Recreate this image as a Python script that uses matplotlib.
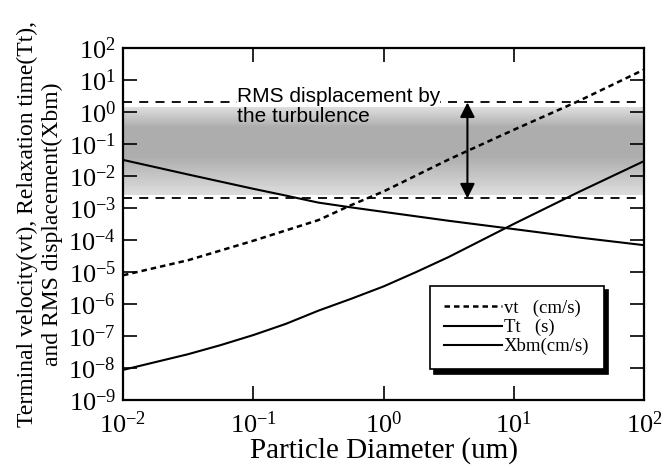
import numpy as np
from matplotlib import pyplot as plt
from matplotlib.ticker import LogLocator

plt.rcParams['font.family'] = ['Liberation Serif', 'DejaVu Serif']
plt.rcParams['mathtext.fontset'] = 'custom'
plt.rcParams['mathtext.rm'] = 'Liberation Serif'
plt.rcParams['mathtext.it'] = 'Liberation Serif:italic'

# values
diameter_um = [0.01, 0.0316, 0.1, 0.178, 0.316, 0.562, 1.0, 3.16, 10.0, 31.6, 100.0]
vt_cm_s = [7.9e-6, 2.34e-5, 9.5e-5, 2.0e-4, 4.2e-4, 1.23e-3, 3.3e-3, 3.3e-2, 0.28, 2.24, 21.4]
xbm_cm = [3.2e-2, 1.12e-2, 4.0e-3, 2.45e-3, 1.48e-3, 1.05e-3, 7.6e-4, 4.0e-4, 2.2e-4, 1.2e-4, 6.9e-5]

tt_diameter_um = [0.01, 0.0316, 0.0562, 0.1, 0.178, 0.316, 0.562, 1.0, 1.78, 3.16, 10.0, 31.6, 100.0]
tt_s = [8.7e-9, 2.7e-8, 5.2e-8, 1.07e-7, 2.4e-7, 6.2e-7, 1.45e-6, 3.55e-6, 1.0e-5,
        2.95e-5, 3.2e-4, 3.2e-3, 2.95e-2]

turb_lines = [2.0, 2.0e-3]
band_low, band_high = 2.5e-3, 1.4
band_core = [4.0e-2, 3.4e-1]
arrow_x = 4.4

fig = plt.figure(figsize=(6.71, 4.67), dpi=100)
ax = fig.add_axes([0.1833, 0.1435, 0.7767, 0.7535])
ax.set_xscale('log')
ax.set_yscale('log')
ax.set_xlim(1e-2, 1e2)
ax.set_ylim(1e-9, 1e2)
ax.yaxis.set_major_locator(LogLocator(base=10, numticks=30))

# grey turbulence band, darker in the middle
edges = np.logspace(np.log10(band_low), np.log10(band_high), 50)
lo_c, hi_c = np.log10(band_core)
for a, b in zip(edges[:-1], edges[1:]):
    m = 0.5 * (np.log10(a) + np.log10(b))
    if m < lo_c:
        f = (m - np.log10(band_low)) / (lo_c - np.log10(band_low))
    elif m > hi_c:
        f = (np.log10(band_high) - m) / (np.log10(band_high) - hi_c)
    else:
        f = 1.0
    g = 0.87 - 0.19 * f
    ax.axhspan(a, b, color=(g, g, g), lw=0, zorder=0)

for yv in turb_lines:
    ax.axhline(yv, color='black', lw=1.3, ls=(0, (5, 4)), zorder=1)

ax.plot(diameter_um, vt_cm_s, color='black', lw=1.8, ls=(0, (2.2, 1.6)),
        label='vt   (cm/s)', zorder=3)
ax.plot(tt_diameter_um, tt_s, color='black', lw=1.5, label='Tt   (s)', zorder=3)
ax.plot(diameter_um, xbm_cm, color='black', lw=1.5, label='Xbm(cm/s)', zorder=3)

ax.annotate('', xy=(arrow_x, turb_lines[0]), xytext=(arrow_x, turb_lines[1]),
            arrowprops=dict(arrowstyle='<|-|>', color='black', lw=1.5,
                            mutation_scale=22, shrinkA=0, shrinkB=0),
            zorder=4)

ax.text(0.075, 5.9, 'RMS displacement by', fontsize=15,
        family=['Liberation Sans', 'DejaVu Sans'], va='top', ha='left',
        bbox=dict(facecolor='white', edgecolor='none', pad=0), zorder=5)
ax.text(0.075, 1.45, 'the turbulence', fontsize=15,
        family=['Liberation Sans', 'DejaVu Sans'], va='top', ha='left', zorder=5)

ax.tick_params(which='major', direction='in', length=10, width=1.2,
               top=True, right=True, labelsize=19, pad=5)
ax.tick_params(axis='x', pad=8)
ax.tick_params(which='minor', length=0)
for s in ax.spines.values():
    s.set_linewidth(1.6)

ax.set_xlabel('Particle Diameter (um)', fontsize=21)
ax.xaxis.set_label_coords(0.5, -0.105)
ax.set_ylabel('Terminal velocity(vt), Relaxation time(Tt),\nand RMS displacement(Xbm)',
              fontsize=17, linespacing=1.25)
ax.yaxis.set_label_coords(-0.115, 0.5)

leg = ax.legend(loc='lower right', bbox_to_anchor=(0.94, 0.06), fontsize=13.5,
                frameon=True, fancybox=False, edgecolor='black', framealpha=1,
                labelspacing=0.1, handlelength=3.1, handletextpad=0.1,
                borderpad=0.75,
                shadow={'ox': 3, 'oy': -3, 'color': 'black', 'alpha': 1})
leg.get_frame().set_linewidth(1.2)

fig.savefig('out.png', dpi=100)
